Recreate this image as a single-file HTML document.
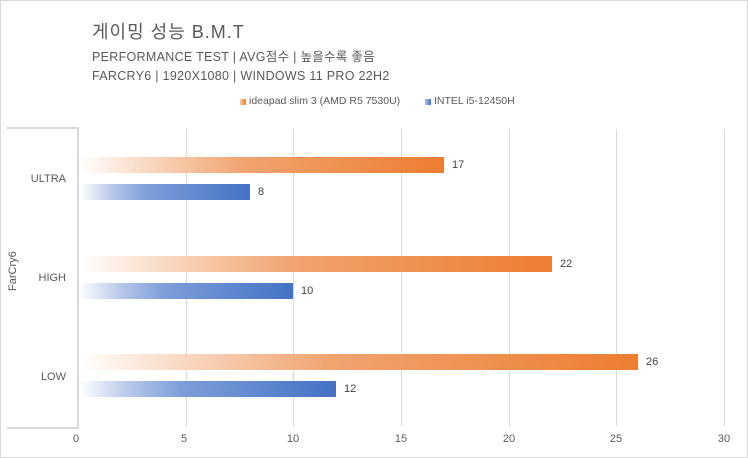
<!DOCTYPE html>
<html><head><meta charset="utf-8"><style>
body{margin:0;width:748px;height:458px;background:#fff;font-family:"Liberation Sans","Noto Sans CJK KR",sans-serif;position:relative;overflow:hidden}
.a{position:absolute}
.t{color:#595959}
.bo{position:absolute;height:16px;left:79px;background:linear-gradient(90deg,#fff 0%,#f8d5bd 20%,#f0a470 45%,#ed7d31 100%)}
.bb{position:absolute;height:16px;left:79px;background:linear-gradient(90deg,#fff 0%,#b5c6e8 20%,#7c9ed9 40%,#4472c4 100%)}
.v{position:absolute;font-size:11px;color:#404040}
.g{position:absolute;top:129px;height:297px;width:1px;background:#d9d9d9}
.x{position:absolute;top:433px;font-size:11px;color:#595959;width:30px;text-align:center}
.c{position:absolute;font-size:11px;color:#595959;width:60px;text-align:right;left:6px}
</style></head><body>
<div class="a" style="left:0;top:0;width:746px;height:456px;border:1px solid #d9d9d9"></div>
<div class="a t" style="left:92px;top:18px;font-size:18px;letter-spacing:1px">게이밍 성능 B.M.T</div>
<div class="a t" style="left:92px;top:50px;font-size:12.5px;line-height:14px;letter-spacing:0.3px">PERFORMANCE TEST | AVG점수 | 높을수록 좋음</div>
<div class="a t" style="left:92px;top:69px;font-size:12.5px;line-height:14px;letter-spacing:0.3px">FARCRY6 | 1920X1080 | WINDOWS 11 PRO 22H2</div>
<div class="a" style="left:240px;top:99px;width:6px;height:6px;background:linear-gradient(90deg,#f8c9a6,#ed7d31)"></div>
<div class="a t" style="left:249px;top:95px;font-size:10.5px">ideapad slim 3 (AMD R5 7530U)</div>
<div class="a" style="left:425px;top:99px;width:6px;height:6px;background:linear-gradient(90deg,#b5c6e8,#4472c4)"></div>
<div class="a t" style="left:434px;top:95px;font-size:10.5px">INTEL i5-12450H</div>
<div class="a" style="left:7px;top:127px;width:70px;height:298px;border-top:2px solid #d9d9d9;border-bottom:2px solid #d9d9d9;border-right:2px solid #d9d9d9"></div>
<div class="a t" style="left:-2px;top:270px;font-size:11px;transform:rotate(-90deg);width:30px;text-align:center">FarCry6</div>
<div class="c" style="top:173px">ULTRA</div>
<div class="c" style="top:272px">HIGH</div>
<div class="c" style="top:371px">LOW</div>
<div class="g" style="left:186px"></div><div class="g" style="left:293px"></div><div class="g" style="left:401px"></div><div class="g" style="left:509px"></div><div class="g" style="left:616px"></div><div class="g" style="left:724px"></div>
<div class="bo" style="top:157px;width:365px"></div><div class="v" style="left:452px;top:159px">17</div>
<div class="bb" style="top:184px;width:171px"></div><div class="v" style="left:258px;top:186px">8</div>
<div class="bo" style="top:256px;width:473px"></div><div class="v" style="left:560px;top:258px">22</div>
<div class="bb" style="top:283px;width:214px"></div><div class="v" style="left:301px;top:285px">10</div>
<div class="bo" style="top:354px;width:559px"></div><div class="v" style="left:646px;top:356px">26</div>
<div class="bb" style="top:381px;width:257px"></div><div class="v" style="left:344px;top:383px">12</div>
<div class="x" style="left:61px">0</div><div class="x" style="left:169px">5</div><div class="x" style="left:278px">10</div><div class="x" style="left:386px">15</div><div class="x" style="left:494px">20</div><div class="x" style="left:601px">25</div><div class="x" style="left:709px">30</div>
</body></html>
